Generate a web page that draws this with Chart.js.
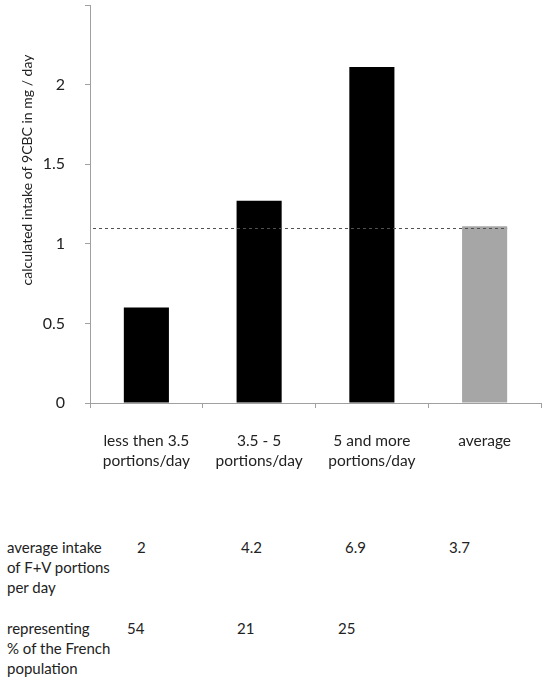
<!DOCTYPE html>
<html>
<head>
<meta charset="utf-8">
<script src="https://cdn.jsdelivr.net/npm/chart.js@4.4.1/dist/chart.umd.min.js"></script>
<style>
  body { margin:0; background:#fff; font-family:Lato, "Open Sans", sans-serif; color:#222; }
  #wrap { position:relative; width:550px; height:681px; }
  #chartBox { position:absolute; left:0; top:0; width:550px; height:480px; }
  .cell { position:absolute; font-size:15px; line-height:20px; white-space:nowrap; }
</style>
</head>
<body>
<div id="wrap">
  <div id="chartBox"><canvas id="myChart"></canvas></div>
</div>
<script>
// data
var categories = [["less then 3.5","portions/day"], ["3.5 - 5","portions/day"], ["5 and more","portions/day"], ["average"]];
var intake = [0.6, 1.27, 2.11, 1.11];
var barColors = ["#000000", "#000000", "#000000", "#a6a6a6"];
var averageLine = 1.1;
var yTicks = [0, 0.5, 1, 1.5, 2];

var rowLabels = [["average intake","of F+V portions","per day"], ["representing","% of the French","population"]];
var portionsPerDay = ["2", "4.2", "6.9", "3.7"];
var populationShare = ["54", "21", "25", ""];

// layout of the table below the chart
var rowTop = [537, 618];
var colLeft = [[137, 241, 345, 449], [127, 237, 338, 0]];

// dotted line for the overall average
var avgLinePlugin = {
  id: "avgLine",
  afterDatasetsDraw: function(chart) {
    var ctx = chart.ctx;
    var y = chart.scales.y.getPixelForValue(averageLine);
    var bars = chart.getDatasetMeta(0).data;
    var last = bars[bars.length - 1];
    var x2 = last.x + last.width / 2;
    ctx.save();
    ctx.strokeStyle = "#505050";
    ctx.lineWidth = 1;
    ctx.setLineDash([3, 3]);
    ctx.beginPath();
    ctx.moveTo(chart.chartArea.left + 3, Math.round(y) + 0.5);
    ctx.lineTo(x2, Math.round(y) + 0.5);
    ctx.stroke();
    ctx.restore();
  }
};

// y axis title, placed like in the original
var yTitlePlugin = {
  id: "yTitle",
  afterDraw: function(chart) {
    var ctx = chart.ctx;
    ctx.save();
    ctx.translate(27, 170);
    ctx.rotate(-Math.PI / 2);
    ctx.font = "14px Lato";
    ctx.fillStyle = "#222";
    ctx.textAlign = "center";
    ctx.textBaseline = "middle";
    ctx.fillText("calculated intake of 9CBC in mg / day", 0, 0);
    ctx.restore();
  }
};

var ctx = document.getElementById("myChart").getContext("2d");
var chart = new Chart(ctx, {
  type: "bar",
  data: {
    labels: categories,
    datasets: [{
      data: intake,
      backgroundColor: barColors,
      barPercentage: 0.4,
      categoryPercentage: 1.0
    }]
  },
  options: {
    responsive: true,
    maintainAspectRatio: false,
    animation: false,
    layout: { padding: { top: 5, right: 9 } },
    plugins: { legend: { display: false }, tooltip: { enabled: false } },
    scales: {
      x: {
        afterFit: function(s) { s.height = 77; },
        border: { color: "#a0a0a0" },
        grid: { drawOnChartArea: false, color: "#a0a0a0", tickLength: 5 },
        ticks: { color: "#222", padding: 23, font: { family: "Lato", size: 15.5, lineHeight: 1.3 }, maxRotation: 0 }
      },
      y: {
        min: 0,
        max: 2.5,
        afterFit: function(s) { s.width = 90; s.paddingTop = 0; s.paddingBottom = 0; },
        afterBuildTicks: function(s) {
          s.ticks = yTicks.concat([2.5]).map(function(v) { return { value: v }; });
        },
        border: { color: "#a0a0a0" },
        grid: { drawOnChartArea: false, color: "#a0a0a0", tickLength: 5 },
        ticks: {
          color: "#222",
          padding: 20,
          font: { family: "Lato", size: 16 },
          callback: function(v) { return yTicks.indexOf(v) >= 0 ? String(v) : ""; }
        }
      }
    }
  },
  plugins: [avgLinePlugin, yTitlePlugin]
});

// table under the chart
var wrap = document.getElementById("wrap");
function addCell(text, left, top) {
  var d = document.createElement("div");
  d.className = "cell";
  d.style.left = left + "px";
  d.style.top = top + "px";
  d.innerHTML = text;
  wrap.appendChild(d);
}
var rows = [portionsPerDay, populationShare];
for (var r = 0; r < rows.length; r++) {
  addCell(rowLabels[r].join("<br>"), 7, rowTop[r]);
  for (var c = 0; c < rows[r].length; c++) {
    if (rows[r][c] !== "") addCell(rows[r][c], colLeft[r][c], rowTop[r]);
  }
}
</script>
</body>
</html>
